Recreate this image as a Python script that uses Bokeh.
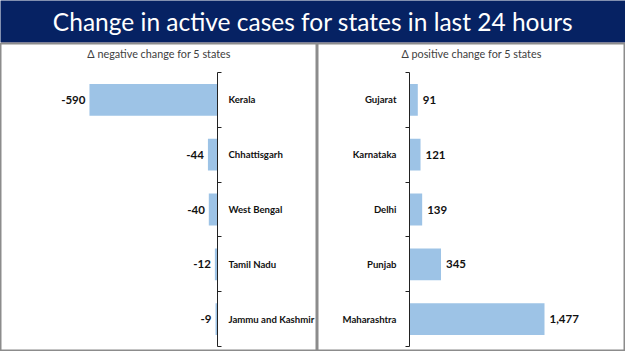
from bokeh.plotting import figure
from bokeh.layouts import column, row
from bokeh.models import LinearAxis, FixedTicker, ColumnDataSource
from bokeh.core.properties import value
from bokeh.embed import file_html
from bokeh.resources import INLINE

TITLE = "Change in active cases for states in last 24 hours"
neg_title = "\u0394 negative change for 5 states"
pos_title = "\u0394 positive change for 5 states"
neg_states = ["Kerala", "Chhattisgarh", "West Bengal", "Tamil Nadu", "Jammu and Kashmir"]
neg_values = [-590, -44, -40, -12, -9]
pos_states = ["Gujarat", "Karnataka", "Delhi", "Punjab", "Maharashtra"]
pos_values = [91, 121, 139, 345, 1477]

FONT = "Lato"
NAVY = "#062263"
BAR = "#9dc3e6"
BORDER = "#8c8c8c"

# Banner
banner = figure(width=625, height=43, x_range=(0, 1), y_range=(0, 1),
                toolbar_location=None, output_backend="svg",
                x_axis_location=None, y_axis_location=None)
banner.min_border = 0
banner.min_border_bottom = 1
banner.background_fill_color = NAVY
banner.border_fill_color = "#f2c49b"
banner.outline_line_color = None
banner.grid.grid_line_color = None
banner.text(x=[0.5], y=[0.5], text=[TITLE], text_color="white",
            text_font=value(FONT), text_font_size="24.5px",
            text_align="center", text_baseline="middle")


def panel(states, vals, xr, width, side, sub, standoff):
    n = len(states)
    ys = [n - 0.5 - i for i in range(n)]
    labels = [f"{v:,}" for v in vals]
    src = ColumnDataSource(dict(y=ys, v=vals, lab=labels))
    p = figure(width=width, height=308, x_range=xr, y_range=(-0.091, 5.529),
               toolbar_location=None, output_backend="svg",
               x_axis_location=None, y_axis_location=None)
    p.min_border = 0
    p.outline_line_color = BORDER
    p.outline_line_width = 2
    p.grid.grid_line_color = None
    p.hbar(y="y", right="v", left=0, height=0.58, source=src,
           fill_color=BAR, line_color=None)
    neg = side == "right"
    p.text(x="v", y="y", text="lab", source=src,
           x_offset=-4 if neg else 5,
           text_align="right" if neg else "left", text_baseline="middle",
           text_font=value(FONT), text_font_style="bold", text_font_size="11.5px",
           text_color="#111111")
    p.text(x=[(xr[0] + xr[1]) / 2], y=[5.35], text=[sub],
           text_align="center", text_baseline="middle",
           text_font=value(FONT), text_font_size="10.8px", text_color="#404040")
    ax = LinearAxis(fixed_location=0, bounds=(0, n),
                    ticker=FixedTicker(ticks=ys, minor_ticks=list(range(n + 1))))
    ax.major_label_overrides = {y: s for y, s in zip(ys, states)}
    ax.major_tick_line_color = None
    ax.major_tick_in = 0
    ax.major_tick_out = 0
    ax.minor_tick_in = 0
    ax.minor_tick_out = 4
    ax.minor_tick_line_color = "#222222"
    ax.axis_line_color = "#222222"
    ax.major_label_standoff = standoff
    ax.major_label_text_font = FONT
    ax.major_label_text_font_style = "bold"
    ax.major_label_text_font_size = "9.6px"
    ax.major_label_text_color = "#111111"
    p.add_layout(ax, side)
    return p


left = panel(neg_states, neg_values, (-1000, 461), 317, "right", neg_title, 7)
right = panel(pos_states, pos_values, (-1006, 2363), 308, "left", pos_title, 9)

layout = column(banner, row(left, right, spacing=0), spacing=0)
open("out.html", "w").write(file_html(layout, INLINE))
